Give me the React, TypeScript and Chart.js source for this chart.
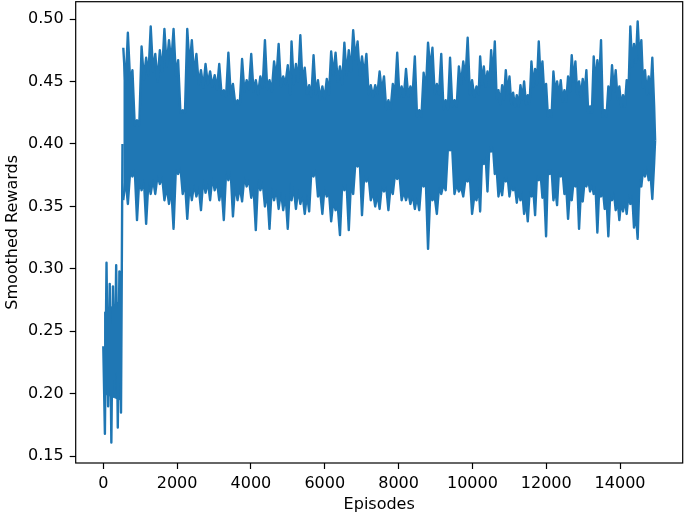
import { useEffect, useRef } from "react";
import { Chart, registerables } from "chart.js";

Chart.register(...registerables);

// ---- Data ----
const xTickValues = [0, 2000, 4000, 6000, 8000, 10000, 12000, 14000];
const yTickValues = [0.15, 0.2, 0.25, 0.3, 0.35, 0.4, 0.45, 0.5];

// warm-up phase, episodes 0..480, then the jump at ~520
const warmupRange = [0, 480];
const warmupRewards = [0.238, 0.168, 0.305, 0.19, 0.288, 0.161, 0.286, 0.203, 0.303, 0.173, 0.298, 0.185];
const jumpEpisode = 520;
const jumpReward = 0.4;
const warmupCoreEpisodes = [20, 470];
const warmupCoreUpper = [0.265, 0.275];
const warmupCoreLower = [0.2, 0.195];

// early phase, episodes 542..5060
const earlyRange = [542, 5060];
const earlyPeaks = [0.477, 0.489, 0.459, 0.419, 0.478, 0.469, 0.494, 0.472, 0.475, 0.492, 0.483, 0.492, 0.467, 0.427, 0.492, 0.483, 0.472, 0.459, 0.464, 0.458, 0.455, 0.464, 0.443, 0.473, 0.448, 0.435, 0.468, 0.451, 0.472, 0.451, 0.454, 0.483, 0.451, 0.466, 0.48, 0.454, 0.463];
const earlyTopNotches = [0.445, 0.45, 0.415, 0.415, 0.452, 0.455, 0.458, 0.45, 0.458, 0.462, 0.465, 0.455, 0.425, 0.425, 0.462, 0.455, 0.448, 0.445, 0.448, 0.446, 0.444, 0.44, 0.438, 0.44, 0.432, 0.432, 0.442, 0.444, 0.442, 0.44, 0.445, 0.444, 0.442, 0.452, 0.446, 0.448, 0.44];
const earlyTroughs = [0.355, 0.352, 0.374, 0.339, 0.363, 0.336, 0.36, 0.36, 0.368, 0.355, 0.352, 0.332, 0.376, 0.36, 0.34, 0.355, 0.358, 0.347, 0.361, 0.355, 0.363, 0.355, 0.339, 0.371, 0.342, 0.355, 0.354, 0.366, 0.357, 0.331, 0.363, 0.35, 0.332, 0.355, 0.348, 0.347, 0.332];
const earlyBottomNotches = [0.372, 0.378, 0.38, 0.372, 0.372, 0.37, 0.372, 0.375, 0.374, 0.366, 0.365, 0.38, 0.382, 0.37, 0.368, 0.368, 0.366, 0.372, 0.37, 0.374, 0.37, 0.366, 0.378, 0.378, 0.368, 0.366, 0.374, 0.372, 0.366, 0.372, 0.37, 0.362, 0.366, 0.364, 0.362, 0.36, 0.37];

// middle phase, episodes 5100..10170
const midRange = [5100, 10170];
const midPeaks = [0.482, 0.464, 0.487, 0.461, 0.447, 0.471, 0.451, 0.446, 0.452, 0.474, 0.473, 0.462, 0.481, 0.475, 0.491, 0.482, 0.47, 0.472, 0.447, 0.447, 0.458, 0.454, 0.435, 0.448, 0.473, 0.446, 0.46, 0.446, 0.47, 0.427, 0.457, 0.481, 0.477, 0.448, 0.472, 0.435, 0.469, 0.435, 0.462, 0.466, 0.485, 0.451, 0.446];
const midTopNotches = [0.448, 0.45, 0.448, 0.44, 0.438, 0.44, 0.436, 0.436, 0.44, 0.455, 0.45, 0.448, 0.455, 0.458, 0.468, 0.455, 0.455, 0.44, 0.438, 0.44, 0.442, 0.428, 0.428, 0.44, 0.438, 0.438, 0.438, 0.44, 0.422, 0.422, 0.442, 0.46, 0.44, 0.44, 0.428, 0.428, 0.43, 0.43, 0.448, 0.452, 0.44, 0.438, 0.44];
const midTroughs = [0.355, 0.348, 0.352, 0.344, 0.346, 0.374, 0.358, 0.344, 0.358, 0.338, 0.347, 0.327, 0.363, 0.331, 0.36, 0.382, 0.343, 0.37, 0.355, 0.35, 0.348, 0.362, 0.347, 0.36, 0.372, 0.355, 0.355, 0.352, 0.348, 0.347, 0.366, 0.316, 0.355, 0.344, 0.36, 0.363, 0.395, 0.36, 0.362, 0.358, 0.37, 0.344, 0.355];
const midBottomNotches = [0.366, 0.364, 0.36, 0.36, 0.378, 0.38, 0.362, 0.366, 0.362, 0.355, 0.35, 0.368, 0.368, 0.37, 0.385, 0.386, 0.375, 0.374, 0.362, 0.36, 0.366, 0.366, 0.366, 0.376, 0.376, 0.362, 0.362, 0.36, 0.358, 0.37, 0.37, 0.36, 0.358, 0.366, 0.368, 0.396, 0.396, 0.368, 0.366, 0.372, 0.374, 0.358, 0.366];

// late phase, episodes 10210..14924
const lateRange = [10210, 14924];
const latePeaks = [0.47, 0.462, 0.458, 0.475, 0.482, 0.443, 0.447, 0.459, 0.454, 0.441, 0.439, 0.447, 0.45, 0.439, 0.466, 0.46, 0.482, 0.466, 0.448, 0.427, 0.458, 0.45, 0.451, 0.443, 0.454, 0.471, 0.466, 0.45, 0.452, 0.459, 0.43, 0.47, 0.467, 0.483, 0.427, 0.446, 0.463, 0.459, 0.446, 0.439, 0.451, 0.494, 0.48, 0.498, 0.483, 0.459, 0.454, 0.469];
const lateTopNotches = [0.448, 0.446, 0.446, 0.452, 0.436, 0.432, 0.436, 0.44, 0.432, 0.43, 0.43, 0.436, 0.432, 0.432, 0.446, 0.448, 0.452, 0.44, 0.422, 0.422, 0.44, 0.438, 0.434, 0.434, 0.442, 0.45, 0.44, 0.438, 0.44, 0.425, 0.425, 0.448, 0.45, 0.422, 0.422, 0.436, 0.442, 0.436, 0.43, 0.43, 0.442, 0.462, 0.465, 0.468, 0.445, 0.44, 0.44, 0.43];
const lateTroughs = [0.346, 0.384, 0.362, 0.394, 0.376, 0.358, 0.359, 0.37, 0.358, 0.363, 0.353, 0.355, 0.344, 0.338, 0.358, 0.343, 0.371, 0.357, 0.326, 0.376, 0.355, 0.351, 0.374, 0.36, 0.34, 0.355, 0.366, 0.332, 0.354, 0.366, 0.362, 0.36, 0.329, 0.358, 0.348, 0.326, 0.355, 0.347, 0.339, 0.346, 0.344, 0.352, 0.333, 0.324, 0.366, 0.374, 0.371, 0.356];
const lateBottomNotches = [0.388, 0.39, 0.398, 0.398, 0.38, 0.368, 0.374, 0.374, 0.368, 0.366, 0.364, 0.362, 0.355, 0.362, 0.364, 0.375, 0.376, 0.362, 0.38, 0.38, 0.364, 0.378, 0.378, 0.366, 0.362, 0.37, 0.37, 0.362, 0.37, 0.372, 0.368, 0.366, 0.364, 0.364, 0.356, 0.36, 0.362, 0.356, 0.355, 0.356, 0.36, 0.36, 0.345, 0.372, 0.38, 0.382, 0.376, 0.385];

const lastEpisode = 14950;
const lastReward = 0.403;

const X_MIN = -747.5;
const X_MAX = 15697.5;
const Y_MIN = 0.1446;
const Y_MAX = 0.5139;

type Pt = { x: number; y: number };

const segments = [
  { range: earlyRange, peaks: earlyPeaks, topNotches: earlyTopNotches, troughs: earlyTroughs, bottomNotches: earlyBottomNotches },
  { range: midRange, peaks: midPeaks, topNotches: midTopNotches, troughs: midTroughs, bottomNotches: midBottomNotches },
  { range: lateRange, peaks: latePeaks, topNotches: lateTopNotches, troughs: lateTroughs, bottomNotches: lateBottomNotches },
];

const interleave = (a: number[], b: number[]) => {
  const out: number[] = [];
  for (let i = 0; i < a.length; i++) {
    out.push(a[i]);
    if (i < b.length) out.push(b[i]);
  }
  return out;
};

const spread = (vals: number[], range: number[]): Pt[] =>
  vals.map((v, i) => ({ x: range[0] + (i * (range[1] - range[0])) / (vals.length - 1), y: v }));

function warmupLine(): Pt[] {
  return [...spread(warmupRewards, warmupRange), { x: jumpEpisode, y: jumpReward }];
}

function envelope(kind: "upper" | "lower"): Pt[] {
  const pts: Pt[] = [];
  segments.forEach((s) => {
    const vals = kind === "upper" ? interleave(s.peaks, s.topNotches) : interleave(s.troughs, s.bottomNotches);
    pts.push(...spread(vals, s.range));
  });
  pts.push({ x: lastEpisode, y: lastReward });
  return pts;
}

const zip = (xs: number[], ys: number[]): Pt[] => xs.map((x, i) => ({ x, y: ys[i] }));

const BLUE = "#1f77b4";
const FONT = "'DejaVu Sans', 'Liberation Sans', sans-serif";

const framePlugin = {
  id: "frame",
  afterDatasetsDraw(chart: any) {
    const { ctx, chartArea } = chart;
    ctx.save();
    ctx.strokeStyle = "#000";
    ctx.lineWidth = 1.2;
    ctx.strokeRect(chartArea.left, chartArea.top, chartArea.right - chartArea.left, chartArea.bottom - chartArea.top);
    ctx.restore();
  },
};

const lineDs = (data: Pt[], fill: any, width: number) => ({
  data,
  borderColor: BLUE,
  backgroundColor: BLUE,
  borderWidth: width,
  pointRadius: 0,
  tension: 0,
  fill,
  borderJoinStyle: "round" as const,
});

export default function App() {
  const ref = useRef<HTMLCanvasElement | null>(null);

  useEffect(() => {
    document.body.style.margin = "0";
    const canvas = ref.current;
    if (!canvas) return;
    const chart = new Chart(canvas, {
      type: "line",
      data: {
        datasets: [
          lineDs(warmupLine(), false, 2.4),
          lineDs(zip(warmupCoreEpisodes, warmupCoreUpper), "+1", 1),
          lineDs(zip(warmupCoreEpisodes, warmupCoreLower), false, 1),
          lineDs(envelope("upper"), "+1", 2.4),
          lineDs(envelope("lower"), false, 2.4),
        ],
      },
      options: {
        animation: false,
        responsive: false,
        devicePixelRatio: 1,
        parsing: false,
        normalized: true,
        layout: { padding: { left: 0, top: 1.7, right: 2.3, bottom: 0 } },
        plugins: { legend: { display: false }, tooltip: { enabled: false } },
        scales: {
          x: {
            type: "linear",
            min: X_MIN,
            max: X_MAX,
            afterBuildTicks: (scale: any) => {
              scale.ticks = xTickValues.map((v) => ({ value: v }));
            },
            afterFit: (scale: any) => {
              scale.height = 54;
              scale.paddingLeft = 0;
              scale.paddingRight = 0;
            },
            grid: { drawOnChartArea: false, drawTicks: true, tickLength: 6, tickColor: "#000", tickWidth: 1.2 },
            border: { display: false },
            ticks: {
              color: "#000",
              font: { family: FONT, size: 16 },
              padding: 5,
              maxRotation: 0,
              autoSkip: false,
              callback: (v: any) => String(v),
            },
            title: {
              display: true,
              text: "Episodes",
              color: "#000",
              font: { family: FONT, size: 16 },
              padding: { top: 0, bottom: 2.4 },
            },
          },
          y: {
            type: "linear",
            min: Y_MIN,
            max: Y_MAX,
            afterBuildTicks: (scale: any) => {
              scale.ticks = yTickValues.map((v) => ({ value: v }));
            },
            afterFit: (scale: any) => {
              scale.width = 75.7;
              scale.paddingTop = 0;
              scale.paddingBottom = 0;
            },
            grid: { drawOnChartArea: false, drawTicks: true, tickLength: 6, tickColor: "#000", tickWidth: 1.2 },
            border: { display: false },
            ticks: {
              color: "#000",
              font: { family: FONT, size: 16 },
              padding: 6,
              autoSkip: false,
              callback: (v: any) => Number(v).toFixed(2),
            },
            title: {
              display: true,
              text: "Smoothed Rewards",
              color: "#000",
              font: { family: FONT, size: 16 },
              padding: { top: 3, bottom: 0 },
            },
          },
        },
      },
      plugins: [framePlugin],
    });
    return () => chart.destroy();
  }, []);

  return <canvas ref={ref} width={685} height={517} style={{ display: "block" }} />;
}
